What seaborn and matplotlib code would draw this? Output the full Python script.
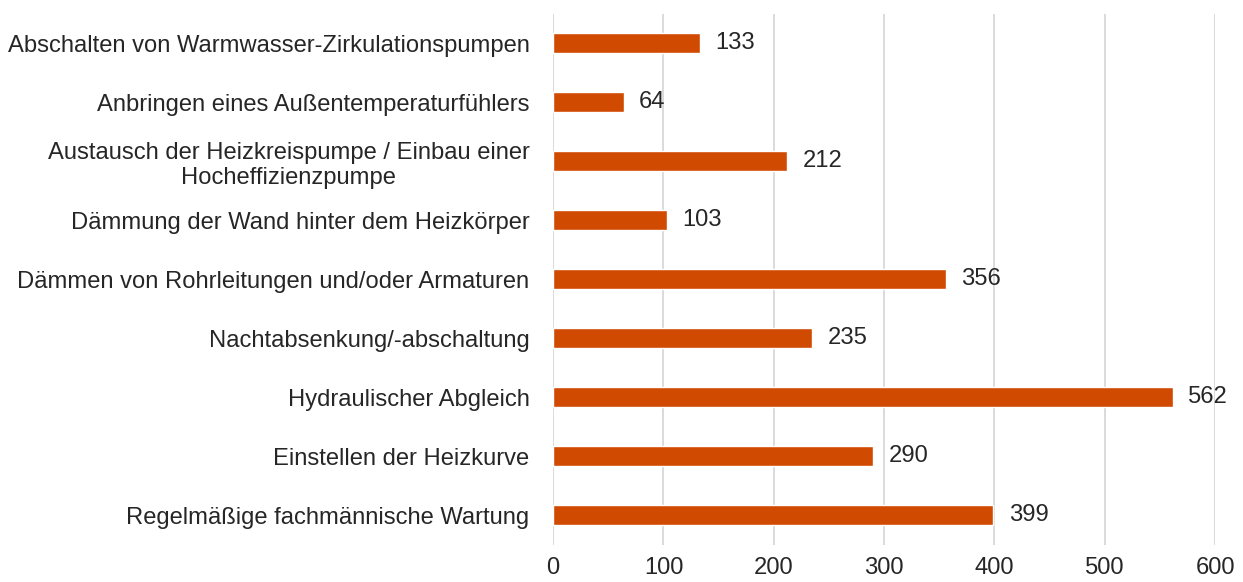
import matplotlib
matplotlib.use("Agg")
import matplotlib.pyplot as plt
import seaborn as sns
import pandas as pd

categories = [
    "Abschalten von Warmwasser-Zirkulationspumpen",
    "Anbringen eines Außentemperaturfühlers",
    "Austausch der Heizkreispumpe / Einbau einer\nHocheffizienzpumpe",
    "Dämmung der Wand hinter dem Heizkörper",
    "Dämmen von Rohrleitungen und/oder Armaturen",
    "Nachtabsenkung/-abschaltung",
    "Hydraulischer Abgleich",
    "Einstellen der Heizkurve",
    "Regelmäßige fachmännische Wartung",
]
values = [133, 64, 212, 103, 356, 235, 562, 290, 399]
x_ticks = [0, 100, 200, 300, 400, 500, 600]

bar_color = "#D04A02"
grid_color = "#D4D4D4"
text_color = "#262626"
font_size = 17.1

sns.set_theme(style="white")
plt.rcParams["font.family"] = ["Liberation Sans", "DejaVu Sans"]

df = pd.DataFrame({"Maßnahme": categories, "Anzahl": values})

fig = plt.figure(figsize=(12.43, 5.82), dpi=100)
ax = fig.add_axes([0.445, 0.064, 0.5325, 0.912])

sns.barplot(data=df, x="Anzahl", y="Maßnahme", color=bar_color,
            saturation=1, width=0.34, ax=ax, orient="h")

ax.set_xlim(0, 600)
ax.set_xticks(x_ticks)
ax.set_xticklabels([str(t) for t in x_ticks], fontsize=font_size, color=text_color)
ax.set_xlabel("")
ax.set_ylabel("")
ax.tick_params(axis="y", labelsize=font_size, labelcolor=text_color, length=0, pad=17)
ax.tick_params(axis="x", length=0, pad=9)
for lbl in ax.get_yticklabels():
    lbl.set_multialignment("center")

ax.xaxis.grid(True, color=grid_color, linewidth=1.2)
ax.set_axisbelow(True)
for side in ["top", "right", "bottom", "left"]:
    ax.spines[side].set_visible(False)

for container in ax.containers:
    ax.bar_label(container, labels=[str(v) for v in values], padding=11,
                 fontsize=font_size, color=text_color)

fig.savefig("out.png", dpi=100, facecolor="white")
